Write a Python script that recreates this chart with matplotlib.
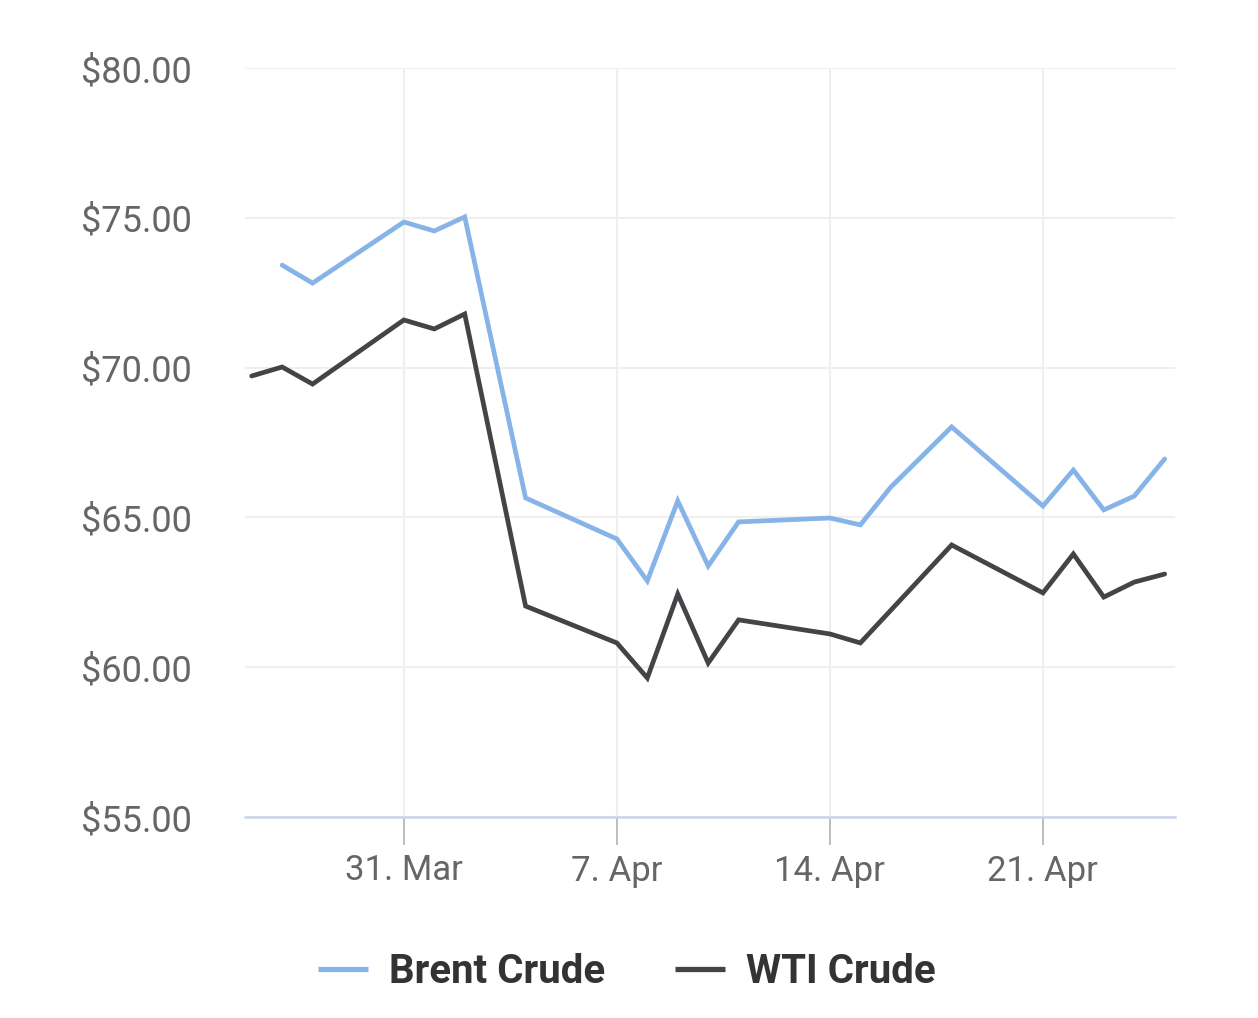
import matplotlib
matplotlib.use("Agg")
import matplotlib.pyplot as plt
import matplotlib.dates as mdates
import numpy as np
from datetime import datetime, timedelta

# ---- data ----
brent_dates = ["2025-03-27", "2025-03-28", "2025-03-31", "2025-04-01", "2025-04-02",
               "2025-04-04", "2025-04-07", "2025-04-08", "2025-04-09", "2025-04-10",
               "2025-04-11", "2025-04-14", "2025-04-15", "2025-04-16", "2025-04-18",
               "2025-04-21", "2025-04-22", "2025-04-23", "2025-04-24", "2025-04-25"]
brent_values = [73.42, 72.82, 74.86, 74.56, 75.03,
                65.65, 64.28, 62.88, 65.55, 63.38,
                64.85, 64.98, 64.75, 66.01, 68.02,
                65.38, 66.58, 65.25, 65.71, 66.95]

wti_dates = ["2025-03-26", "2025-03-27", "2025-03-28", "2025-03-31", "2025-04-01",
             "2025-04-02", "2025-04-04", "2025-04-07", "2025-04-08", "2025-04-09",
             "2025-04-10", "2025-04-11", "2025-04-14", "2025-04-15", "2025-04-18",
             "2025-04-21", "2025-04-22", "2025-04-23", "2025-04-24", "2025-04-25"]
wti_values = [69.72, 70.02, 69.45, 71.59, 71.29,
              71.79, 62.04, 60.81, 59.64, 62.44,
              60.14, 61.58, 61.11, 60.81, 64.08,
              62.48, 63.78, 62.34, 62.84, 63.11]

series_names = ["Brent Crude", "WTI Crude"]
y_ticks = [55, 60, 65, 70, 75, 80]
x_tick_dates = ["2025-03-31", "2025-04-07", "2025-04-14", "2025-04-21"]
x_tick_labels = ["31. Mar", "7. Apr", "14. Apr", "21. Apr"]

# ---- style ----
brent_color = "#86b3e8"
wti_color = "#434348"
plt.rcParams['font.family'] = ['Roboto', 'DejaVu Sans']

def to_dt(s):
    return datetime.strptime(s, "%Y-%m-%d")

fig = plt.figure(figsize=(12.58, 10.18), dpi=100)
ax = fig.add_axes([245/1258, 1 - 817/1018, (1175-245)/1258, (817-68)/1018])

ax.plot([to_dt(d) for d in brent_dates], brent_values, color=brent_color,
        lw=3.4, solid_joinstyle='miter', solid_capstyle='round', label=series_names[0], zorder=3)
ax.plot([to_dt(d) for d in wti_dates], wti_values, color=wti_color,
        lw=3.4, solid_joinstyle='miter', solid_capstyle='round', label=series_names[1], zorder=3)

x0 = to_dt("2025-03-31") - timedelta(days=5.22)
x1 = to_dt("2025-03-31") + timedelta(days=25.34)
ax.set_xlim(x0, x1)
ax.set_ylim(55, 80)

ax.set_yticks(y_ticks)
ax.set_yticklabels([f"${v:.2f}" for v in y_ticks])
ax.set_xticks([to_dt(d) for d in x_tick_dates])
ax.set_xticklabels(x_tick_labels)

for s in ["top", "right", "left"]:
    ax.spines[s].set_visible(False)
ax.spines["bottom"].set_color("#ccd6eb")
ax.spines["bottom"].set_linewidth(1.8)

ax.grid(True, color="#efefef", lw=1.5, zorder=0)
ax.set_axisbelow(True)

ax.tick_params(axis='y', length=0, pad=38, labelsize=26, labelcolor="#666666")
ax.tick_params(axis='x', length=20, width=1.2, color="#b3b3b3", pad=7,
               labelsize=25, labelcolor="#666666")

leg = fig.legend(loc='center', bbox_to_anchor=(627/1258, 1 - 972/1018), ncol=2,
                 frameon=False, handlelength=1.24, handletextpad=0.52, columnspacing=1.74,
                 prop={'family': ['Roboto', 'DejaVu Sans'], 'weight': 'bold', 'size': 29})
for t in leg.get_texts():
    t.set_color("#333333")
for h in leg.get_lines():
    h.set_linewidth(3.8)
    h.set_solid_capstyle('butt')

fig.savefig("out.png", dpi=100, facecolor="white")
